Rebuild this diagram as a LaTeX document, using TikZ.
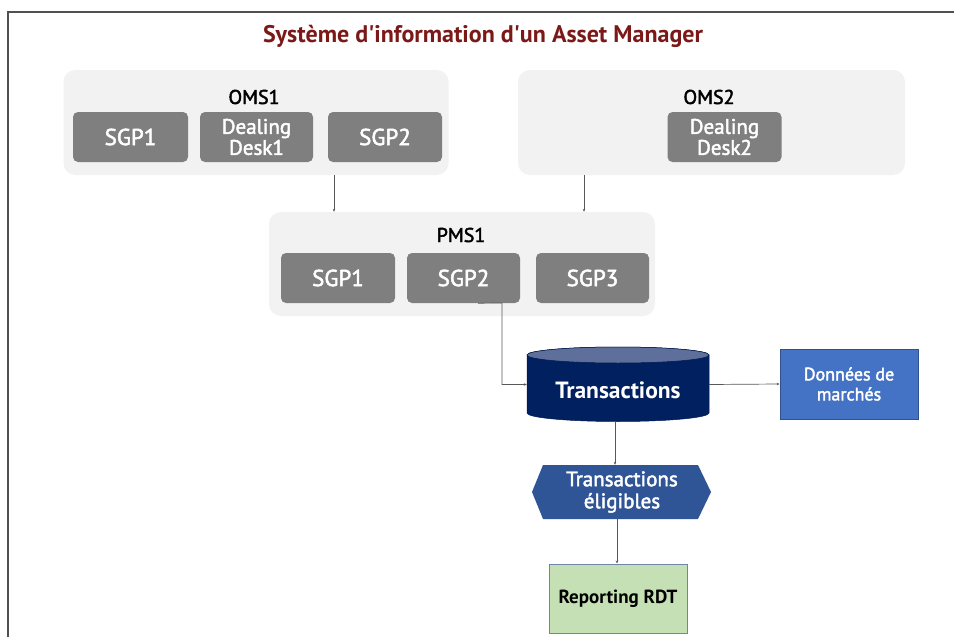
\documentclass[tikz,border=0pt]{standalone}
\usepackage{fontspec}
\setmainfont{PT Sans}
\newfontfamily\medfont[FakeBold=2.2]{PT Sans}
\usetikzlibrary{arrows.meta}
\definecolor{titlered}{HTML}{7B1818}
\definecolor{contgray}{HTML}{F2F2F2}
\definecolor{boxgray}{HTML}{7F7F7F}
\definecolor{navy}{HTML}{002060}
\definecolor{navytop}{HTML}{5D6F9A}
\definecolor{hexblue}{HTML}{2F5597}
\definecolor{mktblue}{HTML}{4472C4}
\definecolor{mktedge}{HTML}{2F528F}
\definecolor{rdtgreen}{HTML}{C5E0B4}
\definecolor{rdtedge}{HTML}{6F86A8}
\definecolor{linegray}{HTML}{595959}
\begin{document}
\begin{tikzpicture}[x=1pt,y=-1pt,
  container/.style={fill=contgray, rounded corners=12pt, inner sep=0pt},
  subbox/.style={fill=boxgray, rounded corners=5pt, inner sep=0pt, text=white,
    font=\medfont\fontsize{23}{22}\selectfont, align=center, minimum height=50pt},
  grouplabel/.style={font=\medfont\fontsize{20}{20}\selectfont, text=black, inner sep=0pt},
  conn/.style={draw=linegray, line width=0.7pt, -{Stealth[length=3pt,width=2.5pt]}}]
\useasboundingbox (0,0) rectangle (954,637);
\fill[white] (0,0) rectangle (954,637);
\draw[color=linegray!90!black, line width=1.3pt] (8,640) -- (8,12) -- (957,12);

\node[font=\bfseries\fontsize{24}{26}\selectfont, text=titlered, inner sep=0pt] (title) at (483,36) {Système d\textquotesingle information d\textquotesingle un Asset Manager};

% OMS1
\node[container, minimum width=385pt, minimum height=105pt] (oms1) at (256,122.5) {};
\node[grouplabel] (oms1l) at (254,97) {OMS1};
\node[subbox, minimum width=115pt] (o1sgp1) at (130.5,137) {SGP1};
\node[subbox, minimum width=113pt, font=\medfont\fontsize{21}{21}\selectfont] (o1dd) at (256.5,137) {Dealing\\Desk1};
\node[subbox, minimum width=114pt] (o1sgp2) at (385,137) {SGP2};

% OMS2
\node[container, minimum width=387pt, minimum height=105pt] (oms2) at (711.5,122.5) {};
\node[grouplabel] (oms2l) at (709,97) {OMS2};
\node[subbox, minimum width=114pt, font=\medfont\fontsize{21}{21}\selectfont] (o2dd) at (724.5,137) {Dealing\\Desk2};

% PMS1
\node[container, minimum width=386pt, minimum height=104pt] (pms1) at (462,264) {};
\node[grouplabel] (pms1l) at (461,235) {PMS1};
\node[subbox, minimum width=114pt] (psgp1) at (338,278) {SGP1};
\node[subbox, minimum width=113pt] (psgp2) at (463.5,278) {SGP2};
\node[subbox, minimum width=113pt] (psgp3) at (592.5,278) {SGP3};

% cylinder Transactions
\node[inner sep=0pt, minimum width=182pt, minimum height=75pt] (trans) at (618,384.5) {};
\fill[navy, draw=navy!80!black, line width=0.5pt] (527,355) -- (527,413) arc[start angle=180, end angle=360, x radius=91pt, y radius=8.5pt] -- (709,355) arc[start angle=0, end angle=180, x radius=91pt, y radius=8pt] -- cycle;
\fill[navytop, draw=navy!80!black, line width=0.5pt] (618,355) ellipse[x radius=91pt, y radius=8pt];
\node[text=white, font=\bfseries\fontsize{23.5}{24}\selectfont, inner sep=0pt] (transl) at (618,390) {Transactions};

% Données de marchés
\node[fill=mktblue, draw=mktedge, line width=0.8pt, minimum width=138pt, minimum height=70pt, inner sep=0pt, text=white, align=center, font=\medfont\fontsize{18}{20}\selectfont] (mkt) at (849,384) {Données de\\marchés};

% hexagon
\coordinate (hexc) at (621,492);
\fill[hexblue] (543,465) -- (698,465) -- (711,492) -- (698,519) -- (543,519) -- (532,492) -- cycle;
\node[inner sep=0pt, minimum width=179pt, minimum height=54pt] (hex) at (hexc) {};
\node[text=white, align=center, font=\medfont\fontsize{21}{22}\selectfont, inner sep=0pt] (hexl) at (622,492) {Transactions\\éligibles};

% Reporting RDT
\node[fill=rdtgreen, draw=rdtedge, line width=1pt, minimum width=138pt, minimum height=69pt, inner sep=0pt, font=\bfseries\fontsize{19}{20}\selectfont] (rdt) at (618,598.5) {Reporting RDT};

% connectors
\draw[conn] (oms1.south -| 334,0) -- (pms1.north -| 334,0);
\draw[conn] (oms2.south -| 584,0) -- (pms1.north -| 584,0);
\coordinate (elbow) at (502,303);
\draw[conn] (psgp2.south -| 478,0) -- (elbow) |- (trans.west);
\draw[conn] (trans.east) -- (mkt.west);
\draw[conn] (trans.south -| 615,0) -- (hex.north -| 615,0);
\draw[conn] (hex.south -| 617,0) -- (rdt.north -| 617,0);
\end{tikzpicture}
\end{document}
